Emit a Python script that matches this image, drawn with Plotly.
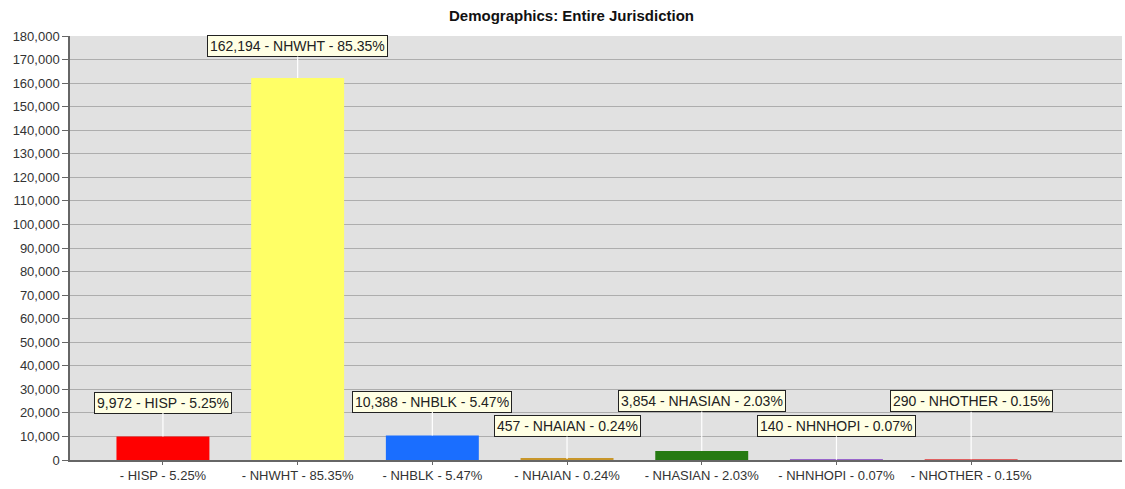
import plotly.graph_objects as go

categories = ["HISP", "NHWHT", "NHBLK", "NHAIAN", "NHASIAN", "NHNHOPI", "NHOTHER"]
values = [9972, 162194, 10388, 457, 3854, 140, 290]
percents = [5.25, 85.35, 5.47, 0.24, 2.03, 0.07, 0.15]
colors = ["#ff0000", "#ffff66", "#1a6eff", "#c8962a", "#267a12", "#9966cc", "#e06060"]
label_offsets_px = [-34, -32, -34, -33, -50, -34, -58]

tick_text = [f"- {c} - {p:.2f}%" for c, p in zip(categories, percents)]
label_text = [f"{v:,} - {c} - {p:.2f}%" for v, c, p in zip(values, categories, percents)]

fig = go.Figure()
fig.add_trace(go.Bar(
    x=categories, y=values, marker=dict(color=colors, line=dict(width=0)),
    width=0.69, hoverinfo="skip", showlegend=False,
))

for c, v, t, off in zip(categories, values, label_text, label_offsets_px):
    fig.add_annotation(
        x=c, y=v, text=t, showarrow=True, arrowhead=0, arrowwidth=1.2,
        arrowcolor="white", ax=0, ay=off, standoff=0,
        bgcolor="#ffffe4", bordercolor="#222222", borderwidth=1, borderpad=2,
        font=dict(family="Arial", size=14, color="#222222"),
    )

fig.update_layout(
    width=1125, height=489,
    margin=dict(l=70, r=3, t=36, b=29),
    paper_bgcolor="white", plot_bgcolor="#e1e1e1",
    title=dict(text="<b>Demographics: Entire Jurisdiction</b>", x=0.508, xanchor="center",
               y=0.968, yanchor="middle",
               font=dict(family="Arial", size=15, color="#111111")),
    bargap=0.31,
)
fig.update_xaxes(
    range=[-0.69, 7.12], tickmode="array", tickvals=categories, ticktext=tick_text,
    showline=True, linecolor="#666666", linewidth=1.5, ticks="outside", ticklen=3,
    tickcolor="#666666", showgrid=False, zeroline=False,
    tickfont=dict(family="Arial", size=13, color="#333333"),
)
fig.update_yaxes(
    range=[0, 180000], dtick=10000, tickformat=",", showline=True,
    linecolor="#666666", linewidth=1.5, ticks="outside", ticklen=6, tickcolor="#666666",
    showgrid=True, gridcolor="#adadad", gridwidth=1, zeroline=False,
    tickfont=dict(family="Arial", size=13, color="#333333"),
)

fig.write_html("out.html", config={"displayModeBar": False},
               post_script="document.body.style.margin='0px';")
